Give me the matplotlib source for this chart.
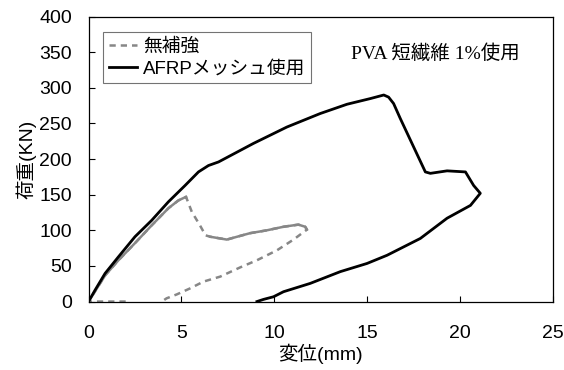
import matplotlib
matplotlib.use("Agg")
import matplotlib.pyplot as plt

plt.rcParams['font.family'] = ['Liberation Sans', 'Noto Sans CJK JP', 'DejaVu Sans']

# 無補強 (displacement mm, load kN)
g_x = [2.0, 0.0, 0.9, 1.61, 2.5, 3.4, 4.3, 4.84, 5.25, 5.56, 6.0, 6.3, 6.55, 7.45, 8.0,
       8.7, 9.6, 10.5, 11.3, 11.67, 11.76, 11.04, 10.15, 9.07, 8.17, 7.09, 6.19, 5.47,
       4.75, 4.2, 3.95]
g_y = [0, 0, 37, 58, 82, 107, 131, 142, 147, 126, 107, 93, 91, 87, 91,
       96, 100, 105, 108, 105, 101, 87, 72, 58, 48, 35, 28, 18.5,
       10, 4.5, 0]
# dense parts of the record (loading branch, plateau)
g_dense = [(1, 9), (12, 21)]

# AFRPメッシュ使用
b_x = [0, 0.35, 0.89, 1.61, 2.5, 3.4, 4.3, 5.2, 5.92, 6.46, 7.0, 8.88, 10.68, 12.48,
       13.92, 15.18, 15.9, 16.16, 16.43, 16.79, 18.14, 18.41, 19.31, 20.3, 20.74,
       21.1, 20.57, 19.31, 17.87, 16.08, 15.0, 13.56, 11.94, 10.5, 9.96, 9.42, 9.07]
b_y = [0, 16, 39.5, 62.8, 91, 114, 140, 163, 182, 191, 196, 222, 245, 264,
       277, 285, 290, 287, 278, 257, 182, 180, 183.5, 182, 163,
       152, 135, 117, 88.6, 65, 53.5, 42, 25.5, 13.8, 6.7, 3, 0]

xticks = [0, 5, 10, 15, 20, 25]
yticks = [0, 50, 100, 150, 200, 250, 300, 350, 400]

fig = plt.figure(figsize=(5.64, 3.70), dpi=100)
ax = fig.add_axes([0.157, 0.185, 0.823, 0.770])

gray = '#878787'
ax.plot(g_x, g_y, color=gray, lw=1.8, ls=(0, (2.5, 2)), label='無補強')
for a, b in g_dense:
    ax.plot(g_x[a:b], g_y[a:b], color=gray, lw=1.8)
ax.plot(b_x, b_y, color='black', lw=2.0, label='AFRPメッシュ使用')

ax.set_xlim(0, 25)
ax.set_ylim(0, 400)
ax.set_xticks(xticks)
ax.set_yticks(yticks)
ax.tick_params(axis='both', direction='in', length=4, width=0.8, labelsize=14)
ax.tick_params(axis='x', pad=17)
ax.tick_params(axis='y', pad=12)
for s in ax.spines.values():
    s.set_linewidth(0.9)

ax.set_xlabel('変位(mm)', fontsize=14, labelpad=1)
ax.set_ylabel('荷重(KN)', fontsize=14, labelpad=2)

leg = ax.legend(loc='upper left', bbox_to_anchor=(0.032, 0.945), fontsize=13.5,
                frameon=True, fancybox=False, edgecolor='#505050',
                handlelength=1.5, handletextpad=0.3, labelspacing=0.25,
                borderpad=0.3, borderaxespad=0)
leg.get_frame().set_linewidth(0.8)

ax.text(0.565, 0.87, 'PVA 短繊維 1%使用', transform=ax.transAxes, fontsize=14,
        family=['Liberation Serif', 'Noto Sans CJK JP'], va='center', ha='left')

fig.savefig('out.png', dpi=100)
